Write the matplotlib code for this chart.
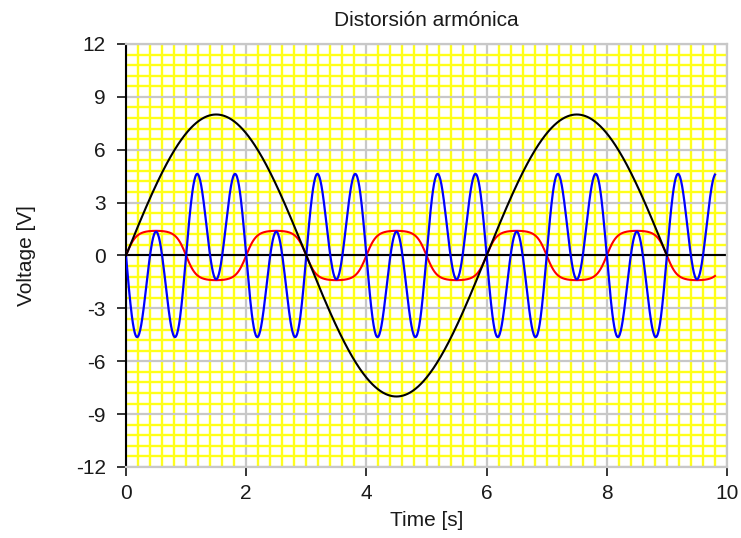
import numpy as np
import matplotlib.pyplot as plt

plt.rcParams['font.family'] = ['Liberation Sans', 'DejaVu Sans']
plt.rcParams['axes.unicode_minus'] = False  # guion normal en "-12"

# valores
t_end = 9.8            # roja y azul terminan en ~9.8 s
black_end = 9.0        # la negra termina en su cruce por cero en 9 s
fund_period = 6.0      # periodo de la senal negra [s]
black_amp = 8.0        # amplitud de la fundamental [V]
red_gain = 1.8         # 3er armonico, saturacion suave
red_clip = 1.4         # nivel de saturacion de la roja [V]
blue_amp3 = 2.15       # componente 3er armonico de la azul
blue_amp9 = 3.5        # componente 9no armonico de la azul

x_ticks = [0, 2, 4, 6, 8, 10]
y_ticks = [-12, -9, -6, -3, 0, 3, 6, 9, 12]

w = 2 * np.pi / fund_period
t = np.linspace(0, t_end, 1200)
tb = np.linspace(0, black_end, 1000)
black = black_amp * np.sin(w * tb)
red = red_clip * np.tanh(red_gain * np.sin(3 * w * t)) / np.tanh(red_gain)
blue = -blue_amp9 * np.sin(9 * w * t) - blue_amp3 * np.sin(3 * w * t)

fig = plt.figure(figsize=(7.41, 5.38), dpi=100)
ax = fig.add_axes([126 / 741, 1 - 467 / 538, 601 / 741, 423 / 538])

ax.axhline(0, color='black', lw=1.5, zorder=2)
ax.plot(t, red, color='red', lw=1.5, zorder=3)
ax.plot(t, blue, color='#0000ff', lw=1.6, zorder=4)
ax.plot(tb, black, color='black', lw=1.5, zorder=5)

ax.set_xlim(0, 10)
ax.set_ylim(-12, 12)
ax.set_xticks(x_ticks)
ax.set_yticks(y_ticks)
ax.set_xticks(np.arange(0, 10.01, 0.2), minor=True)
ax.set_yticks(np.arange(-12, 12.01, 0.6), minor=True)

ax.set_axisbelow(True)
ax.grid(which='minor', color='#ffff1a', lw=1.7)
ax.grid(which='major', color='#c8c8c8', lw=1.6)

for s in ['top', 'right', 'bottom']:
    ax.spines[s].set_color('#c8c8c8')
    ax.spines[s].set_linewidth(1.6)
ax.spines['left'].set_color('black')
ax.spines['left'].set_linewidth(1.5)

ax.tick_params(which='minor', length=0)
ax.tick_params(which='major', direction='out', length=6.5, width=1.1,
               color='black', labelsize=15, labelcolor='#1a1a1a')
ax.tick_params(axis='y', pad=8)
ax.tick_params(axis='x', pad=6)

ax.set_title('Distorsión armónica', fontsize=15, pad=13, color='#1a1a1a')
ax.set_xlabel('Time [s]', fontsize=15, color='#1a1a1a')
ax.set_ylabel('Voltage [V]', fontsize=15, color='#1a1a1a')
ax.xaxis.set_label_coords(0.5, -0.105)
ax.yaxis.set_label_coords(-0.15, 0.5)

fig.savefig('out.png', dpi=100)
